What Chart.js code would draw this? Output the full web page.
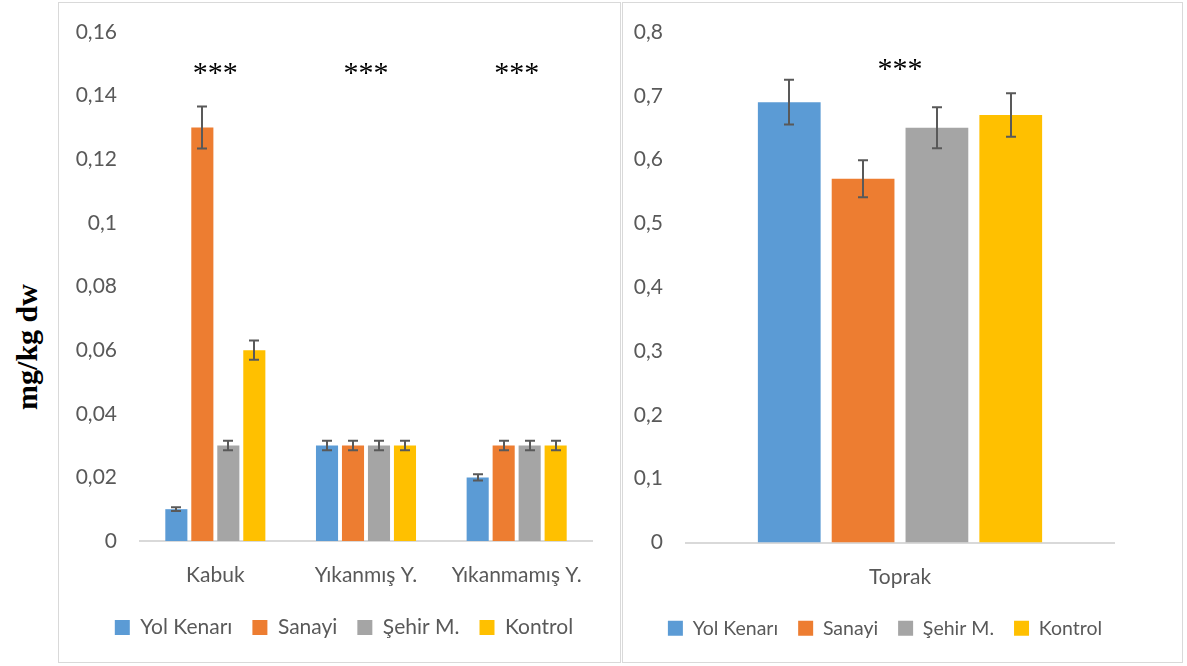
<!DOCTYPE html>
<html><head><meta charset="utf-8">
<script src="https://cdn.jsdelivr.net/npm/chart.js@4.4.0/dist/chart.umd.min.js"></script>
<style>
html,body{margin:0;padding:0;background:#fff;width:1187px;height:666px;overflow:hidden;}
.panel{position:absolute;border:1px solid #d9d9d9;box-sizing:border-box;}
#ytitle{position:absolute;left:27px;top:347px;transform:translate(-50%,-50%) rotate(-90deg);font-family:"Liberation Serif","Times New Roman",serif;font-weight:bold;font-size:30px;color:#000;white-space:nowrap;}
</style></head>
<body>
<div id="ytitle">mg/kg dw</div>
<div class="panel" style="left:58px;top:2px;width:563px;height:661px;"><canvas id="c1" width="561" height="659" style="width:561px;height:659px;"></canvas></div>
<div class="panel" style="left:622px;top:2px;width:561px;height:661px;"><canvas id="c2" width="559" height="659" style="width:559px;height:659px;"></canvas></div>
<script>
const seriesNames = ['Yol Kenarı','Sanayi','Şehir M.','Kontrol'];
const seriesColors = ['#5B9BD5','#ED7D31','#A5A5A5','#FFC000'];

const leftCategories = ['Kabuk','Yıkanmış Y.','Yıkanmamış Y.'];
const leftYolKenari = [0.01, 0.03, 0.02];
const leftSanayi = [0.13, 0.03, 0.03];
const leftSehirM = [0.03, 0.03, 0.03];
const leftKontrol = [0.06, 0.03, 0.03];
const leftErrYolKenari = [0.0006, 0.0015, 0.001];
const leftErrSanayi = [0.0066, 0.0015, 0.0015];
const leftErrSehirM = [0.0015, 0.0015, 0.0015];
const leftErrKontrol = [0.003, 0.0015, 0.0015];
const leftTickLabels = ['0','0,02','0,04','0,06','0,08','0,1','0,12','0,14','0,16'];
const leftStars = ['***','***','***'];
const leftStarLevel = 0.1487;

const rightCategories = ['Toprak'];
const rightYolKenari = [0.69];
const rightSanayi = [0.57];
const rightSehirM = [0.65];
const rightKontrol = [0.67];
const rightErrYolKenari = [0.035];
const rightErrSanayi = [0.029];
const rightErrSehirM = [0.032];
const rightErrKontrol = [0.034];
const rightTickLabels = ['0','0,1','0,2','0,3','0,4','0,5','0,6','0,7','0,8'];
const rightStars = ['***'];
const rightStarLevel = 0.75;

const FONT = 'Lato, "Open Sans", sans-serif';
const TEXT = '#595959';

const errorBarPlugin = {
  id: 'errorBars',
  afterDatasetsDraw(chart) {
    const errs = chart.options.plugins.errorBars.errors;
    const ys = chart.scales.y;
    const ctx = chart.ctx;
    ctx.save();
    ctx.strokeStyle = '#595959';
    ctx.lineWidth = 2;
    chart.data.datasets.forEach((ds, i) => {
      const meta = chart.getDatasetMeta(i);
      meta.data.forEach((el, j) => {
        const v = ds.data[j], e = errs[i][j];
        const x = Math.round(el.x);
        const t = ys.getPixelForValue(v + e), b = ys.getPixelForValue(v - e);
        const cw = 5;
        ctx.beginPath();
        ctx.moveTo(x, t); ctx.lineTo(x, b);
        ctx.moveTo(x - cw, t); ctx.lineTo(x + cw, t);
        ctx.moveTo(x - cw, b); ctx.lineTo(x + cw, b);
        ctx.stroke();
      });
    });
    ctx.restore();
  }
};
const starsPlugin = {
  id: 'stars',
  afterDatasetsDraw(chart) {
    const o = chart.options.plugins.stars;
    const ctx = chart.ctx;
    ctx.save();
    ctx.fillStyle = '#000';
    ctx.font = '30px "Liberation Serif", "Times New Roman", serif';
    ctx.textAlign = 'center';
    ctx.textBaseline = 'middle';
    o.labels.forEach((s, j) => {
      const x = chart.scales.x.getPixelForValue(j);
      const y = chart.scales.y.getPixelForValue(o.level);
      ctx.fillText(s, x, y + 6);
    });
    ctx.restore();
  }
};

function makeChart(id, cats, vals, errs, ticks, maxV, step, stars, starLevel, cfg) {
  return new Chart(document.getElementById(id), {
    type: 'bar',
    data: {
      labels: cats,
      datasets: vals.map((d, i) => ({
        label: seriesNames[i], data: d, backgroundColor: seriesColors[i],
        borderWidth: 0, categoryPercentage: 0.69, barPercentage: 0.85
      }))
    },
    options: {
      responsive: false, animation: false,
      layout: { padding: { top: 29, right: cfg.padRight, bottom: 14, left: cfg.padLeft } },
      plugins: {
        tooltip: { enabled: false },
        legend: {
          position: 'bottom',
          labels: { font: { family: FONT, size: cfg.legendSize }, color: TEXT, boxWidth: 15, boxHeight: 15, padding: 20 }
        },
        errorBars: { errors: errs },
        stars: { labels: stars, level: starLevel }
      },
      scales: {
        x: {
          grid: { display: false, drawTicks: false },
          border: { display: true, color: '#d9d9d9', width: 2 },
          ticks: { font: { family: FONT, size: 21 }, color: TEXT, padding: 22, maxRotation: 0 },
          afterFit(s) { s.height = cfg.xHeight; }
        },
        y: {
          min: 0, max: maxV,
          grid: { display: false, drawTicks: false },
          border: { display: false },
          ticks: { stepSize: step, font: { family: FONT, size: 21 }, color: TEXT, padding: 23,
                   callback: (v, i) => ticks[i] },
          afterFit(s) { s.width = cfg.yWidth; s.paddingTop = 0; s.paddingBottom = 0; }
        },
        ySpacer: {
          position: 'right', display: true,
          grid: { display: false, drawTicks: false },
          border: { display: false },
          ticks: { display: false },
          afterFit(s) { s.width = cfg.spacer; s.paddingTop = 0; s.paddingBottom = 0; }
        }
      }
    },
    plugins: [errorBarPlugin, starsPlugin]
  });
}

makeChart('c1', leftCategories,
  [leftYolKenari, leftSanayi, leftSehirM, leftKontrol],
  [leftErrYolKenari, leftErrSanayi, leftErrSehirM, leftErrKontrol],
  leftTickLabels, 0.16, 0.02, leftStars, leftStarLevel,
  { padLeft: 9, padRight: 0, yWidth: 72, spacer: 28, xHeight: 56, legendSize: 21 });
makeChart('c2', rightCategories,
  [rightYolKenari, rightSanayi, rightSehirM, rightKontrol],
  [rightErrYolKenari, rightErrSanayi, rightErrSehirM, rightErrKontrol],
  rightTickLabels, 0.8, 0.1, rightStars, rightStarLevel,
  { padLeft: 0, padRight: 35, yWidth: 63, spacer: 33, xHeight: 56, legendSize: 19.5 });
</script>
</body></html>
